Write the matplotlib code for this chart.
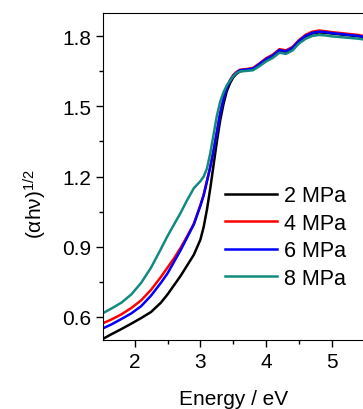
import matplotlib
matplotlib.use('Agg')
import matplotlib.pyplot as plt
from matplotlib.ticker import MultipleLocator

plt.rcParams['font.family'] = ['Liberation Sans', 'DejaVu Sans']
plt.rcParams['mathtext.fontset'] = 'custom'
plt.rcParams['mathtext.rm'] = 'Liberation Sans'
plt.rcParams['mathtext.it'] = 'Liberation Sans'

energy = [1.52, 1.65, 1.8, 1.95, 2.1, 2.25, 2.4, 2.5, 2.6, 2.7, 2.8, 2.9, 3.0, 3.05,
          3.1, 3.15, 3.2, 3.25, 3.3, 3.35, 3.4, 3.45, 3.5, 3.55, 3.6,
          3.7, 3.8, 3.9, 4.0, 4.1, 4.2, 4.3, 4.4, 4.5, 4.6, 4.7, 4.8, 4.9,
          5.0, 5.2, 5.4, 5.5]

p2 = [0.505, 0.525, 0.547, 0.57, 0.594, 0.62, 0.66, 0.695, 0.735, 0.775, 0.82, 0.865, 0.93, 0.985,
      1.06, 1.15, 1.25, 1.35, 1.44, 1.51, 1.565, 1.60, 1.625, 1.64, 1.65,
      1.655, 1.66, 1.68, 1.70, 1.715, 1.738, 1.733, 1.748, 1.778, 1.80, 1.812, 1.817, 1.815,
      1.812, 1.806, 1.80, 1.796]
p4 = [0.572, 0.588, 0.61, 0.637, 0.67, 0.715, 0.77, 0.81, 0.85, 0.895, 0.945, 0.998, 1.078, 1.123,
      1.183, 1.243, 1.313, 1.393, 1.473, 1.533, 1.583, 1.613, 1.635, 1.648, 1.657,
      1.66, 1.665, 1.685, 1.707, 1.722, 1.745, 1.74, 1.755, 1.785, 1.807, 1.82, 1.825, 1.822,
      1.818, 1.812, 1.806, 1.80]
p6 = [0.55, 0.567, 0.59, 0.614, 0.645, 0.69, 0.745, 0.785, 0.835, 0.885, 0.94, 0.995, 1.075, 1.12,
      1.18, 1.24, 1.31, 1.39, 1.47, 1.53, 1.58, 1.61, 1.632, 1.645, 1.655,
      1.658, 1.662, 1.682, 1.703, 1.718, 1.741, 1.736, 1.751, 1.781, 1.803, 1.815, 1.82, 1.818,
      1.814, 1.808, 1.802, 1.797]
p8 = [0.615, 0.635, 0.66, 0.695, 0.745, 0.81, 0.89, 0.945, 0.995, 1.045, 1.10, 1.15, 1.18, 1.20,
      1.235, 1.30, 1.38, 1.46, 1.52, 1.56, 1.59, 1.61, 1.63, 1.643, 1.65,
      1.652, 1.655, 1.673, 1.693, 1.708, 1.73, 1.725, 1.74, 1.77, 1.79, 1.802, 1.806, 1.804,
      1.80, 1.795, 1.79, 1.786]

labels = ['2 MPa', '4 MPa', '6 MPa', '8 MPa']
colors = ['black', '#ff0000', '#0000ff', '#128a80']

fig = plt.figure(figsize=(3.63, 4.10), dpi=100)
ax = fig.add_axes([103 / 363, 69 / 410, 262 / 363, 327 / 410])

for ys, lab, c in zip([p2, p4, p6, p8], labels, colors):
    ax.plot(energy, ys, color=c, lw=1.8, label=lab)

ax.set_xlim(1.52, 5.5)
ax.set_ylim(0.5, 1.9)
ax.xaxis.set_major_locator(MultipleLocator(1))
ax.xaxis.set_minor_locator(MultipleLocator(0.5))
ax.yaxis.set_major_locator(MultipleLocator(0.3))
ax.yaxis.set_minor_locator(MultipleLocator(0.15))
ax.tick_params(which='both', direction='out', labelsize=15, width=1)
ax.tick_params(which='major', length=5)
ax.tick_params(which='minor', length=3)

ax.set_xlabel('Energy / eV', fontsize=15, labelpad=13)
ax.set_ylabel(r'$\mathrm{(\alpha h\nu)^{1/2}}$', fontsize=15, labelpad=8)
ax.yaxis.set_label_coords(-0.205, 0.42)

ax.legend(loc='center right', bbox_to_anchor=(1.0, 0.315), frameon=False, fontsize=15.5,
          handlelength=2.4, handletextpad=0.3, labelspacing=0.3)

plt.savefig('out.png', dpi=100)
